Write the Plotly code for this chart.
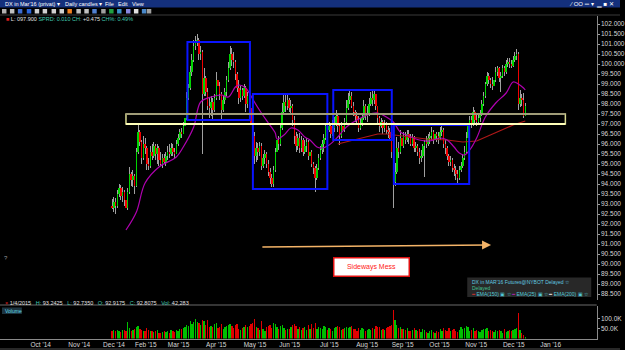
import plotly.graph_objects as go

# ---------------- data ----------------
first_open = 92.9175
closes = [
    92.81, 93.1, 92.9, 93.5, 93.8, 93.4, 93.6, 93.2, 92.8, 93.6,
    94.5, 94.2, 94.4, 93.9, 95.6, 96.6, 96.1, 95.3, 96.0, 95.8,
    95.0, 94.9, 95.6, 95.4, 95.9, 95.5, 95.8, 95.2, 95.0, 95.3,
    95.1, 95.4, 95.6, 95.5, 95.8, 95.6, 95.5, 96.0, 96.3, 96.6,
    96.5, 96.9, 97.3, 98.3, 98.8, 99.6, 100.2, 100.9, 101.1, 101.2,
    100.5, 100.6, 98.5, 99.3, 98.6, 97.9, 97.8, 98.1, 97.7, 98.3,
    99.2, 98.9, 98.5, 97.7, 98.2, 98.6, 99.2, 99.8, 100.5, 100.2,
    100.1, 99.5, 98.8, 98.3, 98.7, 98.4, 98.8, 98.0, 98.4, 97.8,
    97.0, 96.4, 95.4, 95.8, 95.6, 95.9, 94.9, 95.3, 95.5, 95.0,
    94.6, 94.3, 94.0, 94.7, 95.6, 96.2, 96.0, 96.8, 97.6, 98.1,
    97.9, 98.2, 97.8, 97.9, 97.2, 96.4, 95.9, 96.3, 95.8, 96.2,
    95.6, 95.9, 96.1, 95.4, 95.6, 95.0, 94.8, 94.3, 94.8, 95.3,
    95.7, 96.0, 96.3, 96.9, 96.7, 96.9, 96.5, 96.8, 97.0, 97.4,
    96.9, 96.4, 96.9, 96.7, 97.1, 97.8, 98.2, 98.4, 97.9, 97.6,
    97.4, 97.2, 96.8, 97.0, 97.3, 97.9, 97.4, 97.5, 98.0, 98.3,
    98.2, 98.5, 97.9, 97.3, 96.9, 97.1, 96.8, 97.0, 96.7, 96.6,
    96.3, 95.6, 94.1, 94.6, 95.8, 95.6, 96.3, 95.9, 96.4, 96.2,
    96.5, 96.3, 96.0, 96.3, 95.8, 95.9, 95.6, 95.3, 95.4, 95.9,
    96.1, 96.0, 96.3, 96.4, 96.6, 96.2, 96.5, 96.4, 96.3, 96.6,
    96.7, 96.0, 95.8, 95.4, 95.1, 95.2, 94.8, 94.7, 94.5, 94.3,
    94.7, 94.9, 95.3, 95.6, 96.3, 97.0, 97.2, 97.0, 97.6, 97.2,
    97.1, 97.3, 97.5, 98.0, 98.4, 99.0, 99.4, 99.2, 99.0, 98.9,
    99.2, 99.6, 99.8, 99.3, 99.4, 99.8, 99.6, 100.0, 100.1, 100.0,
    99.9, 100.2, 100.4, 100.5, 98.0, 98.3, 98.2, 97.425, 97.9,
]
highs = [
    93.24, 93.35, 93.3, 93.7, 94.0, 93.95, 93.85, 93.7, 93.3, 93.8,
    94.85, 94.6, 94.7, 94.5, 95.8, 96.95, 96.7, 96.2, 96.4, 96.3,
    95.9, 95.3, 95.9, 96.0, 96.1, 96.0, 96.0, 95.9, 95.6, 95.5,
    95.5, 95.6, 95.9, 96.0, 96.05, 96.0, 95.8, 96.2, 96.5, 96.75,
    96.8, 97.1, 97.5, 98.6, 99.0, 99.9, 100.5, 101.2, 101.4, 101.5,
    101.3, 100.9, 100.7, 99.8, 99.4, 98.8, 98.3, 98.4, 98.3, 98.5,
    99.6, 99.3, 99.1, 98.6, 98.4, 98.8, 99.4, 100.1, 100.9, 100.8,
    100.6, 100.2, 99.6, 99.2, 98.9, 98.8, 99.0, 98.9, 98.6, 98.5,
    97.9, 97.05, 96.6, 96.1, 96.05, 96.1, 96.05, 95.5, 95.7, 95.6,
    95.2, 94.8, 94.5, 94.9, 95.8, 96.7, 96.4, 97.0, 98.05, 98.55,
    98.5, 98.5, 98.3, 98.2, 98.0, 97.4, 96.6, 96.5, 96.55, 96.4,
    96.3, 96.2, 96.3, 96.2, 95.8, 95.7, 95.1, 94.9, 95.0, 95.5,
    95.9, 96.2, 96.5, 97.05, 97.1, 97.1, 97.0, 97.2, 97.35, 97.7,
    97.5, 97.0, 97.1, 97.0, 97.3, 98.2, 98.55, 98.7, 98.6, 98.1,
    97.7, 97.6, 97.4, 97.3, 97.5, 98.2, 98.0, 97.9, 98.3, 98.6,
    98.7, 98.7, 98.5, 97.9, 97.4, 97.3, 97.2, 97.2, 97.1, 96.9,
    96.8, 96.4, 95.8, 95.05, 96.35, 96.1, 96.7, 96.4, 96.6, 96.6,
    96.7, 96.7, 96.5, 96.5, 96.4, 96.1, 96.0, 95.8, 95.7, 96.0,
    96.2, 96.4, 96.5, 96.6, 96.85, 96.7, 96.8, 96.6, 96.6, 96.85,
    96.9, 96.8, 96.2, 95.9, 95.5, 95.4, 95.3, 95.0, 94.9, 94.7,
    94.9, 95.1, 95.5, 95.9, 96.6, 97.35, 97.4, 97.4, 97.85, 97.7,
    97.5, 97.5, 97.7, 98.2, 98.6, 99.1, 99.6, 99.55, 99.3, 99.35,
    99.4, 99.85, 99.9, 99.85, 99.6, 99.95, 99.9, 100.2, 100.3, 100.3,
    100.2, 100.4, 100.6, 100.75, 100.6, 98.7, 98.5, 98.55, 98.05,
]
lows = [
    92.735, 92.6, 92.5, 92.8, 93.35, 93.2, 93.1, 92.9, 92.6, 92.7,
    93.5, 93.9, 93.85, 93.5, 93.85, 95.5, 95.9, 95.0, 95.2, 95.5,
    94.7, 94.7, 94.8, 95.2, 95.3, 95.2, 95.0, 94.9, 94.9, 94.8,
    95.0, 94.9, 95.2, 95.3, 95.4, 95.4, 95.3, 95.5, 95.9, 96.2,
    96.3, 96.5, 96.8, 97.2, 98.2, 98.7, 99.4, 100.1, 100.7, 100.9,
    100.2, 100.2, 95.5, 98.4, 98.4, 97.7, 97.3, 97.4, 97.2, 97.6,
    98.2, 98.6, 98.2, 97.2, 97.6, 98.0, 98.4, 99.1, 99.7, 99.9,
    99.8, 99.2, 98.6, 98.0, 98.1, 98.2, 98.3, 97.6, 97.8, 97.6,
    96.85, 96.2, 95.0, 95.1, 95.2, 95.4, 94.7, 94.8, 95.0, 94.8,
    94.4, 94.0, 93.85, 93.85, 94.6, 95.4, 95.7, 95.9, 96.7, 97.5,
    97.6, 97.7, 97.6, 97.5, 96.9, 96.0, 95.6, 95.7, 95.55, 95.6,
    95.4, 95.5, 95.6, 95.2, 95.1, 94.85, 94.5, 93.6, 94.2, 94.7,
    95.2, 95.5, 95.6, 96.2, 96.5, 96.6, 96.3, 96.4, 96.6, 96.9,
    96.6, 95.95, 96.3, 96.5, 96.6, 97.0, 97.7, 98.0, 97.8, 97.4,
    97.1, 97.05, 96.6, 96.7, 96.9, 97.2, 97.2, 97.1, 97.4, 97.9,
    97.9, 98.0, 97.7, 97.0, 96.6, 96.8, 96.5, 96.6, 96.5, 96.3,
    96.2, 95.3, 92.8, 93.9, 94.5, 95.3, 95.5, 95.7, 95.8, 96.0,
    96.1, 96.0, 95.9, 95.9, 95.6, 95.6, 95.4, 95.0, 95.1, 95.3,
    94.35, 95.8, 95.9, 96.0, 96.2, 96.0, 96.1, 96.1, 96.0, 96.2,
    96.4, 95.8, 95.5, 95.2, 94.9, 94.9, 94.6, 94.4, 94.2, 94.0,
    94.2, 94.6, 94.8, 95.2, 95.5, 96.2, 96.9, 96.8, 96.9, 97.0,
    96.9, 97.0, 97.1, 97.4, 97.9, 98.3, 98.9, 99.0, 98.8, 98.7,
    98.8, 99.1, 99.4, 99.1, 98.6, 99.3, 99.4, 99.5, 99.85, 99.8,
    99.8, 99.85, 100.1, 100.2, 97.7, 97.85, 97.9, 97.3, 97.4,
]
volume_k = [
    40, 42, 38, 45, 40, 35, 42, 44, 38, 85,
    55, 40, 45, 48, 60, 62, 50, 45, 40, 38,
    55, 42, 36, 40, 33, 38, 45, 30, 28, 35,
    40, 32, 36, 30, 42, 38, 35, 45, 40, 50,
    48, 55, 60, 70, 65, 90, 75, 85, 100, 82,
    78, 70, 95, 88, 70, 92, 60, 65, 58, 75,
    80, 55, 60, 72, 50, 58, 65, 70, 75, 62,
    55, 70, 72, 48, 45, 52, 60, 70, 58, 62,
    75, 80, 98, 60, 55, 45, 88, 50, 40, 58,
    65, 70, 55, 80, 72, 60, 50, 65, 70, 55,
    45, 50, 48, 60, 70, 75, 62, 50, 58, 45,
    55, 60, 42, 68, 50, 72, 55, 80, 48, 60,
    55, 50, 62, 58, 45, 52, 48, 40, 55, 60,
    62, 58, 45, 50, 55, 60, 52, 58, 62, 48,
    50, 40, 55, 45, 52, 48, 40, 45, 50, 42,
    55, 48, 62, 60, 58, 45, 50, 42, 55, 60,
    65, 70, 145, 95, 70, 55, 60, 50, 48, 45,
    52, 40, 38, 45, 55, 42, 40, 48, 35, 50,
    42, 35, 30, 38, 45, 32, 30, 40, 35, 48,
    38, 52, 45, 40, 55, 38, 42, 48, 40, 35,
    45, 60, 50, 55, 62, 58, 40, 45, 52, 38,
    45, 40, 35, 42, 50, 48, 55, 38, 42, 40,
    35, 45, 38, 42, 40, 30, 48, 35, 40, 42,
    38, 45, 50, 55, 130, 45, 30, 20, 8,
]
# EMA lines (trading-day index, price)
ema25_day = [8, 14, 19, 27, 37, 41, 47, 51, 57, 63, 67, 71, 73, 77, 79, 82, 86, 90,
             94, 95, 99, 103, 107, 111, 114, 118, 121, 125, 130, 135, 141, 147, 153,
             158, 162, 166, 171, 177, 183, 189, 193, 197, 200, 203, 206, 210, 215,
             221, 227, 231, 234, 237, 238]
ema25_val = [91.7, 92.6, 94.05, 94.85, 95.35, 95.85, 96.85, 98.1, 98.35, 98.45, 98.35,
             98.85, 98.95, 98.8, 98.55, 98.1, 97.55, 97.05, 96.55, 96.25, 96.45, 96.8,
             96.7, 96.35, 96.2, 95.85, 95.8, 95.95, 96.35, 96.85, 97.2, 97.45, 97.55,
             97.35, 97.1, 96.6, 96.4, 96.2, 96.15, 96.3, 96.2, 95.85, 95.55, 95.45,
             95.7, 96.3, 97.35, 98.05, 98.55, 99.1, 99.0, 98.8, 98.7]
ema150_day = [130, 137, 145, 153, 158, 170, 181, 193, 202, 210, 215, 223, 231, 238]
ema150_val = [96.0, 96.15, 96.35, 96.5, 96.5, 96.35, 96.25, 96.2, 96.1, 96.15, 96.35,
              96.65, 96.95, 97.15]

month_labels = ["Oct '14", "Nov '14", "Dec '14", "Feb '15", "Mar '15", "Apr '15", "May '15",
                "Jun '15", "Jul '15", "Aug '15", "Sep '15", "Oct '15", "Nov '15", "Dec '15",
                "Jan '16"]
month_day = [-41.1, -18.9, 1.1, 19.4, 38.3, 60, 82.3, 102.3, 125.1, 146.9, 167.4, 188.6,
             209.7, 231.4, 252.6]
price_ticks = [88.5 + 0.5 * k for k in range(28)]
vol_ticks = [50, 100]
vol_tick_text = ["50.0K", "100.0K"]

# drawn annotations (trading-day index / price)
range_boxes = [  # x0, x1, y0, y1
    (43.4, 79.4, 97.2, 101.1),
    (81.1, 124.0, 93.75, 98.5),
    (127.4, 161.1, 96.2, 98.7),
    (162.3, 205.7, 94.0, 96.95),
]
zone = (8.0, 261.1, 97.0, 97.5)
arrow_from = (85.7, 90.85)
arrow_to = (218.3, 90.95)
note_pos = (149.6, 89.85)

# ---------------- figure ----------------
W, H = 625, 350
FONT = "Liberation Sans"


def pxx(x):
    return x / W


def pyy(y):
    return 1 - y / H


N = len(closes)
days = list(range(N))
opens = [first_open] + closes[:-1]
rising = [c >= o for o, c in zip(opens, closes)]
body_base = [min(o, c) for o, c in zip(opens, closes)]
body_h = [max(abs(c - o), 0.03) for o, c in zip(opens, closes)]
body_col = ["#00d400" if r else "#f00000" for r in rising]
vol_col = ["#00c000" if r else "#e00000" for r in rising]

fig = go.Figure()
fig.add_trace(go.Bar(x=days, y=[h - l for h, l in zip(highs, lows)], base=lows, width=0.55,
                     marker=dict(color="#a0a0a0", line=dict(width=0)), xaxis="x", yaxis="y"))
fig.add_trace(go.Bar(x=days, y=body_h, base=body_base, width=0.85,
                     marker=dict(color=body_col, line=dict(width=0)), xaxis="x", yaxis="y"))
fig.add_trace(go.Scatter(x=ema150_day, y=ema150_val, mode="lines",
                         line=dict(color="#b01818", width=1.2), xaxis="x", yaxis="y"))
fig.add_trace(go.Scatter(x=ema25_day, y=ema25_val, mode="lines", line_shape="spline",
                         line=dict(color="#b000b0", width=1.2), xaxis="x", yaxis="y"))
fig.add_trace(go.Bar(x=days, y=volume_k, width=0.75,
                     marker=dict(color=vol_col, line=dict(width=0)), xaxis="x2", yaxis="y2"))

x_range = [(0 - 113) / 1.75, (601.5 - 113) / 1.75]
axis_font = dict(family=FONT, size=6.5, color="#d8d8d8")

fig.update_layout(
    width=W, height=H, margin=dict(l=0, r=0, t=0, b=0),
    paper_bgcolor="#000000", plot_bgcolor="#000000",
    showlegend=False, barmode="overlay", bargap=0, hovermode=False,
    xaxis=dict(domain=[0, 601.5 / W], range=x_range, anchor="y", showticklabels=False,
               showgrid=False, zeroline=False, showline=False, fixedrange=True),
    yaxis=dict(domain=[pyy(300), pyy(16)], range=[88.2, 102.4], side="right", anchor="x",
               tickvals=price_ticks, ticktext=["%.3f" % v for v in price_ticks],
               tickfont=axis_font, ticks="outside", ticklen=2, tickcolor="#a0a0a0",
               showline=True, linecolor="#8a8a8a", linewidth=1, showgrid=False,
               zeroline=False),
    xaxis2=dict(domain=[0, 601.5 / W], range=x_range, anchor="y2", tickvals=month_day,
                ticktext=month_labels, tickfont=axis_font, ticks="", showgrid=False,
                zeroline=False, showline=True, linecolor="#8a8a8a", linewidth=1),
    yaxis2=dict(domain=[pyy(338.5), pyy(305.5)], range=[0, 165], side="right", anchor="x2",
                tickvals=vol_ticks, ticktext=vol_tick_text, tickfont=axis_font,
                ticks="outside", ticklen=2, tickcolor="#a0a0a0", showline=True,
                linecolor="#8a8a8a", linewidth=1, showgrid=False, zeroline=False),
)

shapes = []
# window chrome
shapes.append(dict(type="rect", xref="paper", yref="paper", x0=0, x1=1, y0=pyy(7.5), y1=1,
                   fillcolor="#14307c", line=dict(width=0), layer="above"))
shapes.append(dict(type="line", xref="paper", yref="paper", x0=0, x1=1, y0=pyy(15), y1=pyy(15),
                   line=dict(color="#3a3a3a", width=1)))
shapes.append(dict(type="line", xref="paper", yref="paper", x0=0, x1=601.5 / W, y0=pyy(305),
                   y1=pyy(305), line=dict(color="#6a6a6a", width=1)))
shapes.append(dict(type="line", xref="paper", yref="paper", x0=0, x1=1, y0=pyy(349), y1=pyy(349),
                   line=dict(color="#505050", width=1)))
icon_x = [2, 10, 18, 27, 35, 43, 52, 60, 68, 77, 85, 93, 102, 110, 118, 127, 135, 143, 148]
icon_c = ["#b0b0b0", "#c0c0c0", "#3c6cd0", "#2a64d8", "#d0d0d0", "#d0d0d0", "#d0d0d0",
          "#d0d0d0", "#f08020", "#c0c0c0", "#c0c0c0", "#5080d0", "#a0a0a0", "#20a040",
          "#3a90c8", "#8888e0", "#e0e0e0", "#4a88c8", "#a0a0a0"]
for ix, ic in zip(icon_x, icon_c):
    shapes.append(dict(type="rect", xref="paper", yref="paper", x0=pxx(ix), x1=pxx(ix + 4.5),
                       y0=pyy(13.5), y1=pyy(9), fillcolor=ic, line=dict(width=0)))
# legend box and volume label box
shapes.append(dict(type="rect", xref="paper", yref="paper", x0=pxx(471), x1=pxx(596),
                   y0=pyy(297), y1=pyy(277.5), fillcolor="#282828", line=dict(width=0)))
shapes.append(dict(type="rect", xref="paper", yref="paper", x0=pxx(2), x1=pxx(22),
                   y0=pyy(314), y1=pyy(307.5), fillcolor="#1c3440", line=dict(width=0)))
# drawn range boxes
for x0, x1, y0, y1 in range_boxes:
    shapes.append(dict(type="rect", xref="x", yref="y", x0=x0, x1=x1, y0=y0, y1=y1,
                       line=dict(color="#0a14ff", width=2), fillcolor="rgba(0,0,0,0)"))
zx0, zx1, zy0, zy1 = zone
shapes.append(dict(type="rect", xref="x", yref="y", x0=zx0, x1=zx1, y0=zy0, y1=zy1,
                   line=dict(color="#d8d890", width=1.5), fillcolor="rgba(0,0,0,0)"))
shapes.append(dict(type="line", xref="x", yref="y", x0=zx0, x1=zx1, y0=zy1, y1=zy1,
                   line=dict(color="#a09c78", width=2)))
shapes.append(dict(type="line", xref="x", yref="y", x0=zx0, x1=zx1, y0=zy0, y1=zy0,
                   line=dict(color="#ffffb8", width=2)))
fig.update_layout(shapes=shapes)

ann = []


def txt(x, y, text, size=6, color="#e8e8e8", anchor="left"):
    ann.append(dict(xref="paper", yref="paper", x=pxx(x), y=pyy(y), text=text, showarrow=False,
                    xanchor=anchor, yanchor="middle", font=dict(family=FONT, size=size,
                                                                 color=color)))


txt(3, 4, "DX in Mar'16 (privat) ▾", 5.5, "#ffffff")
txt(64, 4, "Daily candles ▾", 5.5, "#ffffff")
txt(104, 4, "File", 5.5, "#ffffff")
txt(117, 4, "Edit", 5.5, "#ffffff")
txt(131, 4, "View", 5.5, "#ffffff")
txt(621, 4, "⁄ OO ═ ▾  ▁ ■ ✕", 6, "#ffffff", "right")
txt(4, 19, "<span style='color:#e02020'>■</span> L: 097.900 "
           "<span style='color:#40c8b0'>SPRD: 0.010 CH:</span> +0.475 "
           "<span style='color:#40c8b0'>CH%: 0.49%</span>", 5.5, "#e0e0e0")
txt(2, 258, "?", 6, "#9a9a9a")
txt(3, 302.5, "<span style='color:#e02020'>×</span> 1/4/2015   "
              "<span style='color:#40c8b0'>H:</span> 93.2425   "
              "<span style='color:#40c8b0'>L:</span> 92.7350   "
              "<span style='color:#40c8b0'>O:</span> 92.9175   "
              "<span style='color:#40c8b0'>C:</span> 92.8075   "
              "<span style='color:#40c8b0'>Vol:</span> 42,283", 5.5, "#e0e0e0")
txt(3.5, 310.8, "Volume", 5, "#60d8e8")
txt(474, 282, "DX in MAR'16 Futures@NYBOT Delayed ☆", 5, "#60c8e0")
txt(474, 288, "Delayed", 5, "#40c090")
txt(473, 293.5, "<span style='color:#e03030'>━</span> EMA(150) ▣ ☆ "
                "<span style='color:#c020c0'>━</span> EMA(25) ▣ ☆ "
                "<span style='color:#ffffff'>━</span> EMA(200) ▣ ☆", 5, "#50c8d8")

ann.append(dict(xref="x", yref="y", axref="x", ayref="y", x=arrow_to[0], y=arrow_to[1],
                ax=arrow_from[0], ay=arrow_from[1], text="", showarrow=True,
                arrowhead=2, arrowsize=1.2, arrowwidth=1.5, arrowcolor="#f4b468"))
ann.append(dict(xref="x", yref="y", x=note_pos[0], y=note_pos[1], text="Sideways Mess",
                showarrow=False, font=dict(family=FONT, size=7, color="#ff2020"),
                bgcolor="#ffffff", bordercolor="#e01010", borderwidth=1.5, borderpad=2,
                width=70, height=13))
fig.update_layout(annotations=ann)

fig.write_html("out.html", config={"displayModeBar": False, "staticPlot": True})
